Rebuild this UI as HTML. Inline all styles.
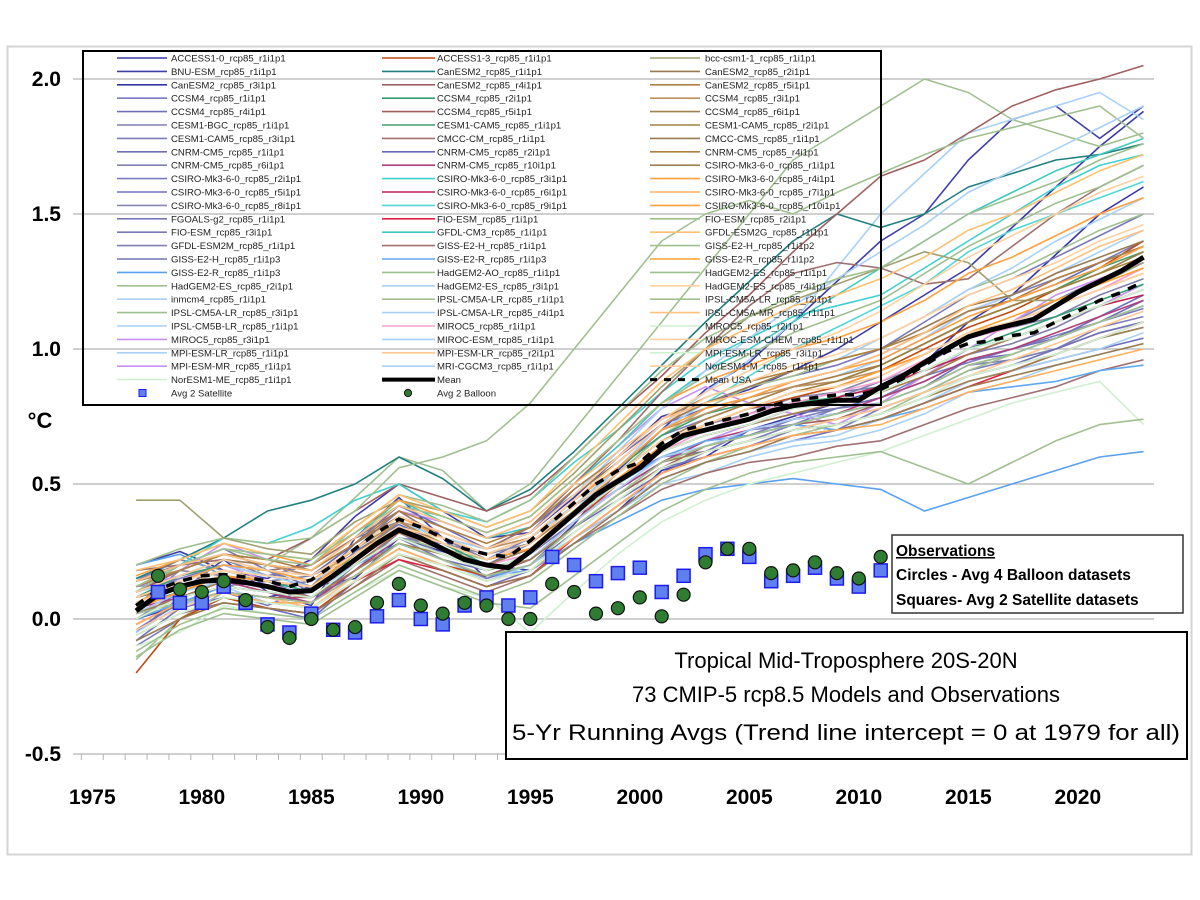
<!DOCTYPE html>
<html><head><meta charset="utf-8"><style>
html,body{margin:0;padding:0;background:#fff;}
svg{display:block;font-family:"Liberation Sans",sans-serif;}
</style></head><body>
<svg id="chart" width="1200" height="900" viewBox="0 0 1200 900" xmlns="http://www.w3.org/2000/svg">
<rect x="0" y="0" width="1200" height="900" fill="#fff"/>
<rect x="7.5" y="46.5" width="1184" height="808" fill="#fff" stroke="#d4d4d4" stroke-width="2"/>
<g id="grid"></g>
<g id="yaxis"></g>
<g id="xaxis"></g>
<g id="models"></g>
<g id="means"></g>
<g id="obs"></g>
<text x="40" y="428" font-size="22" font-weight="bold" text-anchor="middle">°C</text>
<g id="legend">
<rect x="83" y="51" width="798" height="354" fill="none" stroke="#000" stroke-width="2"/>
</g>
<g>
<rect x="892" y="535" width="291" height="78" fill="#fff" stroke="#333" stroke-width="1.5"/>
<text x="896" y="556" font-size="15.5" font-weight="bold" text-decoration="underline">Observations</text>
<text x="896" y="580" font-size="15.5" font-weight="bold">Circles - Avg 4 Balloon datasets</text>
<text x="896" y="605" font-size="15.5" font-weight="bold">Squares- Avg 2 Satellite datasets</text>
</g>
<g>
<rect x="506" y="632" width="681" height="127" fill="#fff" stroke="#000" stroke-width="2"/>
<text x="846" y="668" font-size="22" text-anchor="middle">Tropical Mid-Troposphere 20S-20N</text>
<text x="846" y="702" font-size="22" text-anchor="middle">73 CMIP-5 rcp8.5 Models and Observations</text>
<text x="846" y="740" font-size="22" text-anchor="middle" textLength="668" lengthAdjust="spacingAndGlyphs">5-Yr Running Avgs (Trend line intercept = 0 at 1979 for all)</text>
</g>
</svg>
<script>
const yTicks = [2.0, 1.5, 1.0, 0.5, 0.0, -0.5];
const yTickLabels = ["2.0", "1.5", "1.0", "0.5", "0.0", "-0.5"];
const xTickYears = [1975, 1980, 1985, 1990, 1995, 2000, 2005, 2010, 2015, 2020];
const meanYears = [1977,1978,1979,1980,1981,1982,1983,1984,1985,1986,1987,1988,1989,1990,1991,1992,1993,1994,1995,1996,1997,1998,1999,2000,2001,2002,2003,2004,2005,2006,2007,2008,2009,2010,2011,2012,2013,2014,2015,2016,2017,2018,2019,2020,2021,2022,2023];
const meanValues = [0.03,0.09,0.12,0.14,0.145,0.135,0.12,0.10,0.105,0.16,0.22,0.28,0.33,0.30,0.26,0.22,0.20,0.19,0.25,0.32,0.39,0.46,0.51,0.56,0.63,0.68,0.70,0.72,0.74,0.77,0.79,0.80,0.81,0.81,0.86,0.90,0.95,1.00,1.045,1.07,1.09,1.11,1.16,1.21,1.25,1.29,1.34];
const meanUsaValues = [0.05,0.11,0.14,0.16,0.165,0.155,0.14,0.12,0.145,0.20,0.26,0.32,0.37,0.34,0.30,0.26,0.24,0.23,0.29,0.36,0.43,0.50,0.55,0.58,0.65,0.70,0.72,0.74,0.76,0.79,0.81,0.82,0.83,0.83,0.85,0.89,0.94,0.99,1.02,1.03,1.05,1.06,1.10,1.14,1.18,1.21,1.25];
const obsYears = [1978,1979,1980,1981,1982,1983,1984,1985,1986,1987,1988,1989,1990,1991,1992,1993,1994,1995,1996,1997,1998,1999,2000,2001,2002,2003,2004,2005,2006,2007,2008,2009,2010,2011];
const satelliteValues = [0.10,0.06,0.06,0.12,0.06,-0.02,-0.05,0.02,-0.04,-0.05,0.01,0.07,0.00,-0.02,0.05,0.08,0.05,0.08,0.23,0.20,0.14,0.17,0.19,0.10,0.16,0.24,0.26,0.23,0.14,0.16,0.19,0.15,0.12,0.18];
const balloonValues = [0.16,0.11,0.10,0.14,0.07,-0.03,-0.07,0.00,-0.04,-0.03,0.06,0.13,0.05,0.02,0.06,0.05,0.00,0.00,0.13,0.10,0.02,0.04,0.08,0.01,0.09,0.21,0.26,0.26,0.17,0.18,0.21,0.17,0.15,0.23];
const modelYears = [1977,1979,1981,1983,1985,1987,1989,1991,1993,1995,1997,1999,2001,2003,2005,2007,2009,2011,2013,2015,2017,2019,2021,2023];
const modelNames = ["ACCESS1-0_rcp85_r1i1p1","BNU-ESM_rcp85_r1i1p1","CanESM2_rcp85_r3i1p1","CCSM4_rcp85_r1i1p1","CCSM4_rcp85_r4i1p1","CESM1-BGC_rcp85_r1i1p1","CESM1-CAM5_rcp85_r3i1p1","CNRM-CM5_rcp85_r1i1p1","CNRM-CM5_rcp85_r6i1p1","CSIRO-Mk3-6-0_rcp85_r2i1p1","CSIRO-Mk3-6-0_rcp85_r5i1p1","CSIRO-Mk3-6-0_rcp85_r8i1p1","FGOALS-g2_rcp85_r1i1p1","FIO-ESM_rcp85_r3i1p1","GFDL-ESM2M_rcp85_r1i1p1","GISS-E2-H_rcp85_r1i1p3","GISS-E2-R_rcp85_r1i1p3","HadGEM2-ES_rcp85_r2i1p1","inmcm4_rcp85_r1i1p1","IPSL-CM5A-LR_rcp85_r3i1p1","IPSL-CM5B-LR_rcp85_r1i1p1","MIROC5_rcp85_r3i1p1","MPI-ESM-LR_rcp85_r1i1p1","MPI-ESM-MR_rcp85_r1i1p1","NorESM1-ME_rcp85_r1i1p1",
"ACCESS1-3_rcp85_r1i1p1","CanESM2_rcp85_r1i1p1","CanESM2_rcp85_r4i1p1","CCSM4_rcp85_r2i1p1","CCSM4_rcp85_r5i1p1","CESM1-CAM5_rcp85_r1i1p1","CMCC-CM_rcp85_r1i1p1","CNRM-CM5_rcp85_r2i1p1","CNRM-CM5_rcp85_r10i1p1","CSIRO-Mk3-6-0_rcp85_r3i1p1","CSIRO-Mk3-6-0_rcp85_r6i1p1","CSIRO-Mk3-6-0_rcp85_r9i1p1","FIO-ESM_rcp85_r1i1p1","GFDL-CM3_rcp85_r1i1p1","GISS-E2-H_rcp85_r1i1p1","GISS-E2-R_rcp85_r1i1p3","HadGEM2-AO_rcp85_r1i1p1","HadGEM2-ES_rcp85_r3i1p1","IPSL-CM5A-LR_rcp85_r1i1p1","IPSL-CM5A-LR_rcp85_r4i1p1","MIROC5_rcp85_r1i1p1","MIROC-ESM_rcp85_r1i1p1","MPI-ESM-LR_rcp85_r2i1p1","MRI-CGCM3_rcp85_r1i1p1",
"bcc-csm1-1_rcp85_r1i1p1","CanESM2_rcp85_r2i1p1","CanESM2_rcp85_r5i1p1","CCSM4_rcp85_r3i1p1","CCSM4_rcp85_r6i1p1","CESM1-CAM5_rcp85_r2i1p1","CMCC-CMS_rcp85_r1i1p1","CNRM-CM5_rcp85_r4i1p1","CSIRO-Mk3-6-0_rcp85_r1i1p1","CSIRO-Mk3-6-0_rcp85_r4i1p1","CSIRO-Mk3-6-0_rcp85_r7i1p1","CSIRO-Mk3-6-0_rcp85_r10i1p1","FIO-ESM_rcp85_r2i1p1","GFDL-ESM2G_rcp85_r1i1p1","GISS-E2-H_rcp85_r1i1p2","GISS-E2-R_rcp85_r1i1p2","HadGEM2-ES_rcp85_r1i1p1","HadGEM2-ES_rcp85_r4i1p1","IPSL-CM5A-LR_rcp85_r2i1p1","IPSL-CM5A-MR_rcp85_r1i1p1","MIROC5_rcp85_r2i1p1","MIROC-ESM-CHEM_rcp85_r1i1p1","MPI-ESM-LR_rcp85_r3i1p1","NorESM1-M_rcp85_r1i1p1"];
// model values in hundredths of a degree C
const modelValues = [
[20,25,18,15,22,38,50,40,30,32,45,60,75,80,85,92,100,110,120,130,145,160,175,188],
[5,10,22,10,5,30,45,30,15,20,35,55,70,85,95,110,125,140,150,170,185,190,178,190],
[0,5,10,8,12,15,30,25,20,18,30,40,55,60,70,75,80,85,95,110,120,135,150,160],
[10,15,20,18,10,20,30,28,22,26,40,52,60,62,70,72,78,82,90,95,100,105,110,115],
[-5,8,12,14,8,18,28,22,18,24,36,48,58,66,68,74,76,80,86,96,100,104,112,120],
[15,20,22,16,20,30,36,30,24,30,42,54,66,72,78,80,84,86,92,98,102,108,116,122],
[-10,0,10,5,12,20,30,22,15,20,32,44,56,62,66,72,70,78,84,92,96,100,108,112],
[8,12,18,14,10,25,35,28,20,28,40,50,62,68,72,76,78,82,88,96,98,104,110,118],
[0,10,14,10,6,18,32,24,18,22,36,48,58,64,68,74,78,80,86,94,96,100,106,110],
[12,14,20,16,14,26,40,30,22,30,44,56,68,74,80,86,90,96,104,114,120,126,132,140],
[-8,4,8,4,0,14,24,18,12,18,30,40,52,58,62,66,70,74,80,88,92,96,100,104],
[5,18,16,12,14,22,36,28,24,28,42,54,66,72,76,82,84,90,98,106,110,118,126,132],
[10,20,26,18,12,28,38,32,26,34,46,58,72,80,86,90,94,100,110,120,126,134,142,150],
[2,6,12,10,8,16,26,20,16,20,34,46,56,60,64,70,72,76,82,90,94,98,104,108],
[14,22,18,14,16,24,34,30,22,28,42,52,64,70,76,80,82,88,94,104,108,112,120,126],
[-4,6,10,8,6,20,30,24,18,22,34,44,54,62,66,70,74,78,84,90,94,100,106,110],
[20,24,16,12,10,20,28,22,16,18,28,36,44,48,50,52,50,48,40,45,50,55,60,62],
[-15,0,10,20,30,45,60,55,40,50,70,90,110,130,150,170,180,190,200,195,185,180,175,180],
[10,14,18,16,12,24,34,28,20,26,40,56,72,84,96,110,130,150,165,180,185,190,195,185],
[5,10,14,12,10,20,30,26,22,26,40,54,68,78,86,90,96,104,112,122,128,136,144,150],
[0,8,12,6,4,16,28,22,14,20,30,42,52,58,62,66,68,74,80,88,92,96,100,106],
[10,18,28,22,20,30,40,36,30,36,50,64,78,86,80,76,72,80,90,100,110,120,126,132],
[-5,5,10,8,6,16,26,20,14,18,30,40,50,54,60,64,66,70,76,84,88,94,98,102],
[12,16,20,14,12,22,32,26,20,24,38,48,60,66,72,78,80,84,92,100,104,110,116,124],
[-10,-5,5,2,0,10,18,12,8,-5,10,24,36,44,50,54,58,62,68,74,80,84,88,72],
[-20,0,8,4,2,14,24,20,16,22,36,50,64,72,78,82,86,92,100,108,114,122,130,140],
[15,22,30,40,44,50,60,52,40,48,62,78,94,110,125,140,150,145,150,160,165,170,172,176],
[10,18,24,22,30,40,50,45,40,46,60,76,90,106,120,136,150,164,170,180,190,196,200,205],
[5,10,16,14,10,24,34,28,20,26,40,52,64,70,74,80,82,86,92,100,106,112,118,124],
[0,6,10,8,8,18,28,22,16,22,34,46,56,64,68,72,74,80,86,94,98,104,110,116],
[8,16,20,18,14,26,36,30,24,30,42,56,68,76,80,86,88,94,102,110,116,122,130,136],
[-6,2,6,4,2,12,22,16,10,16,28,38,48,54,58,60,64,66,72,78,82,86,92,96],
[12,20,24,20,16,28,42,34,26,32,48,60,72,78,82,88,92,98,106,114,118,124,132,138],
[4,8,14,10,6,18,30,24,18,22,36,48,58,66,70,74,76,82,88,96,100,106,112,118],
[10,20,30,28,34,44,50,40,36,44,58,70,84,96,104,112,116,120,130,140,150,160,168,172],
[2,10,16,12,8,20,32,26,20,26,40,52,62,68,72,78,82,86,92,98,104,110,116,120],
[6,14,18,16,14,26,38,30,24,30,44,56,70,80,90,100,108,116,124,136,144,150,156,162],
[-2,6,10,8,4,14,22,18,12,16,30,42,54,60,64,68,70,74,80,86,92,98,104,110],
[12,18,24,20,18,30,44,36,30,34,50,64,80,92,100,110,120,130,140,150,158,166,172,178],
[18,20,22,18,20,30,40,30,26,34,50,66,84,100,116,128,132,130,124,126,138,150,160,168],
[0,6,12,10,8,20,30,24,18,24,38,50,60,66,68,72,70,74,78,84,86,88,92,94],
[20,26,30,28,30,40,56,60,66,80,100,120,140,150,155,150,158,165,172,178,182,186,190,178],
[6,12,18,16,14,22,34,28,22,28,40,54,66,74,80,86,90,96,104,114,120,128,136,144],
[-12,-2,4,2,0,10,20,14,8,14,26,38,50,58,64,68,72,76,84,92,98,104,110,116],
[10,16,22,18,16,26,36,30,24,30,42,56,70,80,86,92,96,104,112,122,130,140,148,156],
[4,10,16,14,12,22,32,26,20,24,38,50,62,70,76,80,84,88,96,104,108,116,122,130],
[8,14,20,16,14,24,34,30,26,32,46,62,78,92,104,116,126,136,146,158,166,174,182,190],
[-4,4,10,8,4,16,26,20,14,18,32,44,56,62,66,70,74,78,84,90,96,102,108,114],
[2,10,14,12,10,20,30,24,18,22,36,48,60,64,70,74,76,80,86,94,98,104,110,116],
[44,44,30,26,24,36,44,40,34,40,54,70,86,100,112,118,124,130,136,132,118,118,124,132],
[10,16,22,20,18,28,38,32,26,32,46,58,72,80,86,92,96,100,108,116,120,128,134,140],
[4,12,16,14,12,24,36,28,22,28,40,54,66,74,80,86,90,94,102,110,116,122,128,134],
[14,18,24,20,16,26,36,32,26,30,44,56,70,76,82,86,88,92,98,106,110,116,122,128],
[0,8,12,10,8,18,28,24,18,22,34,46,58,62,66,70,72,76,82,88,92,98,104,108],
[8,12,18,14,12,24,34,28,22,26,40,52,64,72,78,84,88,94,102,110,116,122,128,136],
[-8,0,6,4,2,12,24,18,12,16,28,40,52,58,62,68,70,74,80,86,90,94,98,102],
[12,18,24,22,18,28,40,34,28,34,48,60,74,82,88,92,96,100,106,114,118,126,132,138],
[2,8,14,12,8,20,32,26,20,26,38,50,62,68,72,76,80,84,90,98,104,110,116,122],
[16,22,28,24,20,32,44,38,32,38,52,66,80,88,94,100,104,110,118,128,134,142,150,156],
[-2,6,10,6,6,16,26,20,14,18,30,42,54,60,64,68,70,72,78,84,88,92,96,100],
[6,14,20,18,14,26,38,30,24,30,44,56,70,78,82,88,92,96,104,112,118,124,130,138],
[10,20,26,22,20,34,46,42,36,44,60,76,92,104,112,120,126,130,140,150,156,162,170,176],
[18,22,28,24,22,34,46,40,34,40,56,72,88,100,108,116,120,126,134,144,150,158,166,172],
[-14,-4,2,0,-2,8,18,12,6,4,16,28,40,48,54,58,60,62,56,50,58,66,72,74],
[4,10,16,14,12,24,34,28,22,26,40,52,64,72,78,84,86,92,98,106,112,118,124,130],
[12,20,26,24,22,32,42,38,32,38,52,66,80,90,98,106,112,118,128,138,146,154,160,168],
[8,14,18,16,14,24,34,30,24,30,44,58,72,82,88,94,98,104,112,120,126,132,140,146],
[2,6,10,8,6,16,28,22,16,20,34,46,58,64,68,72,76,80,86,94,98,104,110,116],
[14,20,24,20,18,30,42,36,30,36,50,62,74,80,84,88,92,98,106,116,122,130,138,144],
[-6,2,8,6,4,14,24,20,14,18,32,44,56,62,66,70,72,76,82,90,94,98,104,110],
[10,16,22,18,16,26,38,32,26,32,46,60,74,84,92,100,106,114,124,134,142,150,158,164],
[0,8,12,10,8,20,30,24,18,24,38,50,62,68,72,78,80,84,92,100,104,110,116,122],
[6,12,18,14,12,22,34,28,22,28,42,54,66,72,78,84,86,90,98,106,110,116,122,128]
];
const modelColors = ["#3b3ba8","#4040a8","#3535a5","#7a78c0","#7070b8","#8080b0","#7c7cb8","#7070b8","#8080b5","#7a7ac0","#7070c0","#8888b0","#7878b8","#7878b8","#8080b0","#7070b8","#5aa0f0","#a0c090","#a8d0f8","#a0c090","#a8d0f8","#c890f0","#a8d0f8","#c890f0","#d0f0d0",
"#c04a10","#208080","#a06060","#30a070","#a06060","#40a070","#a07070","#6a6ab8","#b0407a","#40d0d0","#c02050","#50d8d8","#e02040","#40c8c0","#a07070","#60a8f0","#a0c090","#a8d0f8","#a0c090","#a8d0f8","#f8a0d0","#a8d0f8","#ffc890","#a8d0f8",
"#a0a070","#9a7a50","#b08040","#c09060","#a08050","#a08040","#9a7a50","#b08040","#a08050","#ffa040","#ffb060","#ffa040","#a0c090","#ffc070","#a0c090","#ffa030","#a0c090","#ffd0a0","#a0c090","#ffc080","#d0f0d0","#ffd0a0","#d0f0d0","#ffd0a0"];

const NS = "http://www.w3.org/2000/svg";
const X0 = 158, PX_PER_YEAR = 21.9, Y0 = 619, PX_PER_DEG = 270;
function xScale(year){ return X0 + (year - 1978) * PX_PER_YEAR; }
function yScale(v){ return Y0 - v * PX_PER_DEG; }
function mk(tag, attrs, parent){ const e = document.createElementNS(NS, tag); for (const k in attrs) e.setAttribute(k, attrs[k]); parent.appendChild(e); return e; }

const grid = document.getElementById('grid');
const yaxis = document.getElementById('yaxis');
yTicks.forEach((t, i) => {
  const y = yScale(t);
  const l = mk('line', {x1: 73, x2: 1154, y1: y, y2: y, stroke: '#b4b4b4', 'stroke-width': 1.2}, grid);
  
  
  const tx = mk('text', {x: 61, y: y + 7, 'font-size': 21, 'font-weight': 'bold', 'text-anchor': 'end'}, yaxis);
  tx.textContent = yTickLabels[i];
  
  
});
const xaxis = document.getElementById('xaxis');
for (let yr = 1974.5; yr <= 2023.6; yr += 1) {
  const x = xScale(yr);
  const t = mk('line', {x1: x, x2: x, y1: yScale(-0.5), y2: yScale(-0.5) + 6, stroke: '#b4b4b4', 'stroke-width': 1}, xaxis);
  
  
}
xTickYears.forEach(yr => {
  const tx = mk('text', {x: xScale(yr), y: 804, 'font-size': 21, 'font-weight': 'bold', 'text-anchor': 'middle'}, xaxis);
  tx.textContent = yr;
  
  
});

const models = document.getElementById('models');
modelValues.forEach((vals, i) => {
  const pts = vals.map((v, j) => xScale(modelYears[j]).toFixed(1) + ',' + yScale(v / 100).toFixed(1)).join(' ');
  const pl = mk('polyline', {points: pts, fill: 'none', stroke: modelColors[i], 'stroke-width': 1.6, 'stroke-linejoin': 'round'}, models);
  
  
});

const means = document.getElementById('means');
const usaPts = meanUsaValues.map((v, j) => xScale(meanYears[j]).toFixed(1) + ',' + yScale(v).toFixed(1)).join(' ');
const usa = mk('polyline', {points: usaPts, fill: 'none', stroke: '#000', 'stroke-width': 3.5, 'stroke-dasharray': '9,9'}, means);


const meanPts = meanValues.map((v, j) => xScale(meanYears[j]).toFixed(1) + ',' + yScale(v).toFixed(1)).join(' ');
const ml = mk('polyline', {points: meanPts, fill: 'none', stroke: '#000', 'stroke-width': 5, 'stroke-linejoin': 'round'}, means);



const obs = document.getElementById('obs');
satelliteValues.forEach((v, j) => {
  const r = mk('rect', {x: xScale(obsYears[j]) - 6.5, y: yScale(v) - 6.5, width: 13, height: 13, fill: '#6080f0', stroke: '#1c1cf0', 'stroke-width': 1.5}, obs);
  
  
});
balloonValues.forEach((v, j) => {
  const c = mk('circle', {cx: xScale(obsYears[j]), cy: yScale(v), r: 6.5, fill: '#2e7d32', stroke: '#111', 'stroke-width': 1.2}, obs);
  
  
});

// legend
const legend = document.getElementById('legend');
const colX = [[117, 167, 171], [382, 435, 437], [650, 700, 705]];
const colStart = [0, 25, 49];
const colCount = [25, 24, 24];
const rowY0 = 58, rowH = 13.4;
function legendText(x, y, s){
  const t = mk('text', {x: x, y: y + 3.5, 'font-size': 9.6, fill: '#222'}, legend);
  t.textContent = s;
  return t;
}
for (let c = 0; c < 3; c++) {
  for (let r = 0; r < colCount[c]; r++) {
    const idx = colStart[c] + r;
    const y = rowY0 + r * rowH;
    const g = mk('g', {}, legend);
    
    
    mk('line', {x1: colX[c][0], x2: colX[c][1], y1: y, y2: y, stroke: modelColors[idx], 'stroke-width': 1.6}, g);
    const t = mk('text', {x: colX[c][2], y: y + 3.5, 'font-size': 9.6, fill: '#222'}, g);
    t.textContent = modelNames[idx];
  }
}
const yMean = rowY0 + 24 * rowH;
const lm = mk('line', {x1: 382, x2: 435, y1: yMean, y2: yMean, stroke: '#000', 'stroke-width': 4}, legend);


legendText(437, yMean, 'Mean');
const lu = mk('line', {x1: 650, x2: 700, y1: yMean, y2: yMean, stroke: '#000', 'stroke-width': 3, 'stroke-dasharray': '7,7'}, legend);


legendText(705, yMean, 'Mean USA');
const yObs = rowY0 + 25 * rowH;
const ls = mk('rect', {x: 139, y: yObs - 3.5, width: 7, height: 7, fill: '#6080f0', stroke: '#1c1cf0', 'stroke-width': 1}, legend);


legendText(171, yObs, 'Avg 2 Satellite');
const lb = mk('circle', {cx: 408, cy: yObs, r: 3.6, fill: '#2e7d32', stroke: '#111', 'stroke-width': 1}, legend);


legendText(437, yObs, 'Avg 2 Balloon');
</script>
</body></html>
